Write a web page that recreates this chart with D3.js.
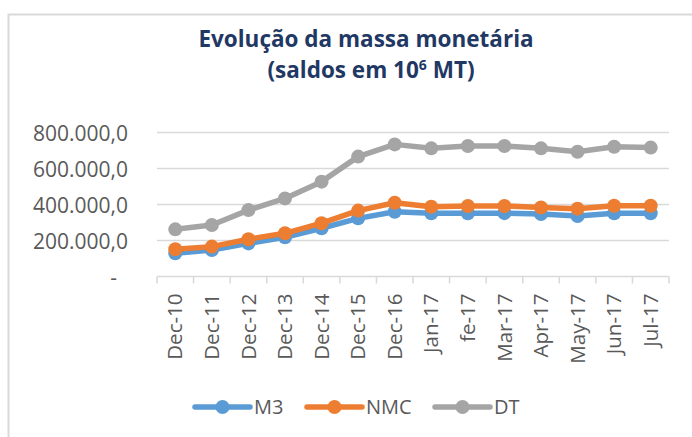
<!DOCTYPE html>
<html>
<head>
<meta charset="utf-8">
<script src="https://cdn.jsdelivr.net/npm/d3@7"></script>
<style>
  body { margin: 0; background: #fff; }
  svg { display: block; font-family: "Open Sans", sans-serif; }
  .axis text { fill: #595959; }
  .axis path, .axis line { stroke: #d9d9d9; }
</style>
</head>
<body>
<svg id="chart"></svg>
<script>
// categories and series (saldos em 10^6 MT)
const categories = ["Dec-10", "Dec-11", "Dec-12", "Dec-13", "Dec-14", "Dec-15", "Dec-16",
  "Jan-17", "fe-17", "Mar-17", "Apr-17", "May-17", "Jun-17", "Jul-17"];
const m3Values = [129000, 147000, 184000, 218000, 268000, 323000, 360000,
  351000, 351000, 352000, 347000, 336000, 351000, 351000];
const nmcValues = [151000, 166000, 207000, 240000, 296000, 366000, 410000,
  388000, 392000, 392000, 384000, 377000, 393000, 393000];
const dtValues = [262000, 286000, 369000, 434000, 527000, 666000, 734000,
  712000, 725000, 725000, 712000, 693000, 721000, 716000];
const yTicks = [0, 200000, 400000, 600000, 800000];

const series = [
  {name: "M3", values: m3Values, color: "#5b9bd5"},
  {name: "NMC", values: nmcValues, color: "#ed7d31"},
  {name: "DT", values: dtValues, color: "#a5a5a5"}
];

const W = 692, H = 437;
const margin = {top: 132.5, right: 23, bottom: 160.5, left: 157};
const width = W - margin.left - margin.right;
const height = H - margin.top - margin.bottom;

const svg = d3.select("#chart").attr("width", W).attr("height", H);

// outer chart border
svg.append("rect")
  .attr("x", 8.5).attr("y", 14.5)
  .attr("width", W).attr("height", H)
  .attr("fill", "none").attr("stroke", "#d9d9d9").attr("stroke-width", 2);

// title
const title = svg.append("text")
  .attr("text-anchor", "middle")
  .attr("fill", "#1f3864")
  .style("font-weight", "bold")
  .style("font-size", "22.5px");
title.append("tspan").attr("x", 366).attr("y", 47).text("Evolução da massa monetária");
const t2 = title.append("tspan").attr("x", 371).attr("y", 78);
t2.append("tspan").text("(saldos em 10");
t2.append("tspan").attr("dy", -8).style("font-size", "14px").text("6");
t2.append("tspan").attr("dy", 8).text(" MT)");

const chart = svg.append("g").attr("transform", `translate(${margin.left},${margin.top})`);

const xScale = d3.scaleBand().domain(categories).range([0, width]);
const yScale = d3.scaleLinear().domain([0, 800000]).range([height, 0]);

// gridlines
chart.append("g")
  .selectAll("line")
  .data(yTicks.slice(1))
  .join("line")
  .attr("x1", 0).attr("x2", width)
  .attr("y1", d => yScale(d)).attr("y2", d => yScale(d))
  .attr("stroke", "#d9d9d9").attr("stroke-width", 1.5);

// y axis labels
const fmt = d => d === 0 ? "-" : d3.format(",.1f")(d).replace(/,/g, "#").replace(".", ",").replace(/#/g, ".");
chart.append("g")
  .attr("class", "axis")
  .style("font-size", "21px")
  .selectAll("text")
  .data(yTicks)
  .join("text")
  .attr("x", d => d === 0 ? -40 : -29)
  .attr("y", d => yScale(d) + 1.5)
  .attr("dy", "0.35em")
  .attr("text-anchor", "end")
  .text(fmt);

// x axis with ticks between categories
const xAxisG = chart.append("g").attr("class", "axis").attr("transform", `translate(0,${height})`);
xAxisG.append("line")
  .attr("x1", 0).attr("x2", width)
  .attr("stroke-width", 1.5);
xAxisG.selectAll("line.tick")
  .data(d3.range(categories.length + 1))
  .join("line")
  .attr("class", "tick")
  .attr("x1", i => i * xScale.bandwidth()).attr("x2", i => i * xScale.bandwidth())
  .attr("y1", 0).attr("y2", 7)
  .attr("stroke-width", 1.5);
xAxisG.selectAll("text")
  .data(categories)
  .join("text")
  .attr("transform", d => `translate(${xScale(d) + xScale.bandwidth() / 2},17) rotate(-90)`)
  .attr("text-anchor", "end")
  .attr("dy", "0.35em")
  .style("font-size", "20.5px")
  .text(d => d);

// lines and markers
const line = d3.line()
  .x((d, i) => xScale(categories[i]) + xScale.bandwidth() / 2)
  .y(d => yScale(d));

series.forEach(s => {
  const g = chart.append("g");
  g.append("path")
    .datum(s.values)
    .attr("d", line)
    .attr("fill", "none")
    .attr("stroke", s.color)
    .attr("stroke-width", 5.5)
    .attr("stroke-linejoin", "round");
  g.selectAll("circle")
    .data(s.values)
    .join("circle")
    .attr("cx", (d, i) => xScale(categories[i]) + xScale.bandwidth() / 2)
    .attr("cy", d => yScale(d))
    .attr("r", 7)
    .attr("fill", s.color);
});

// legend
const legendX = [195, 307, 435];
const legend = svg.append("g");
series.forEach((s, i) => {
  const lg = legend.append("g").attr("transform", `translate(${legendX[i]},407)`);
  lg.append("line")
    .attr("x1", 0).attr("x2", 55)
    .attr("stroke", s.color).attr("stroke-width", 5.5).attr("stroke-linecap", "round");
  lg.append("circle").attr("cx", 27.5).attr("r", 7).attr("fill", s.color);
  lg.append("text")
    .attr("x", 59).attr("dy", "0.35em")
    .attr("fill", "#595959").style("font-size", "20px")
    .text(s.name);
});
</script>
</body>
</html>
